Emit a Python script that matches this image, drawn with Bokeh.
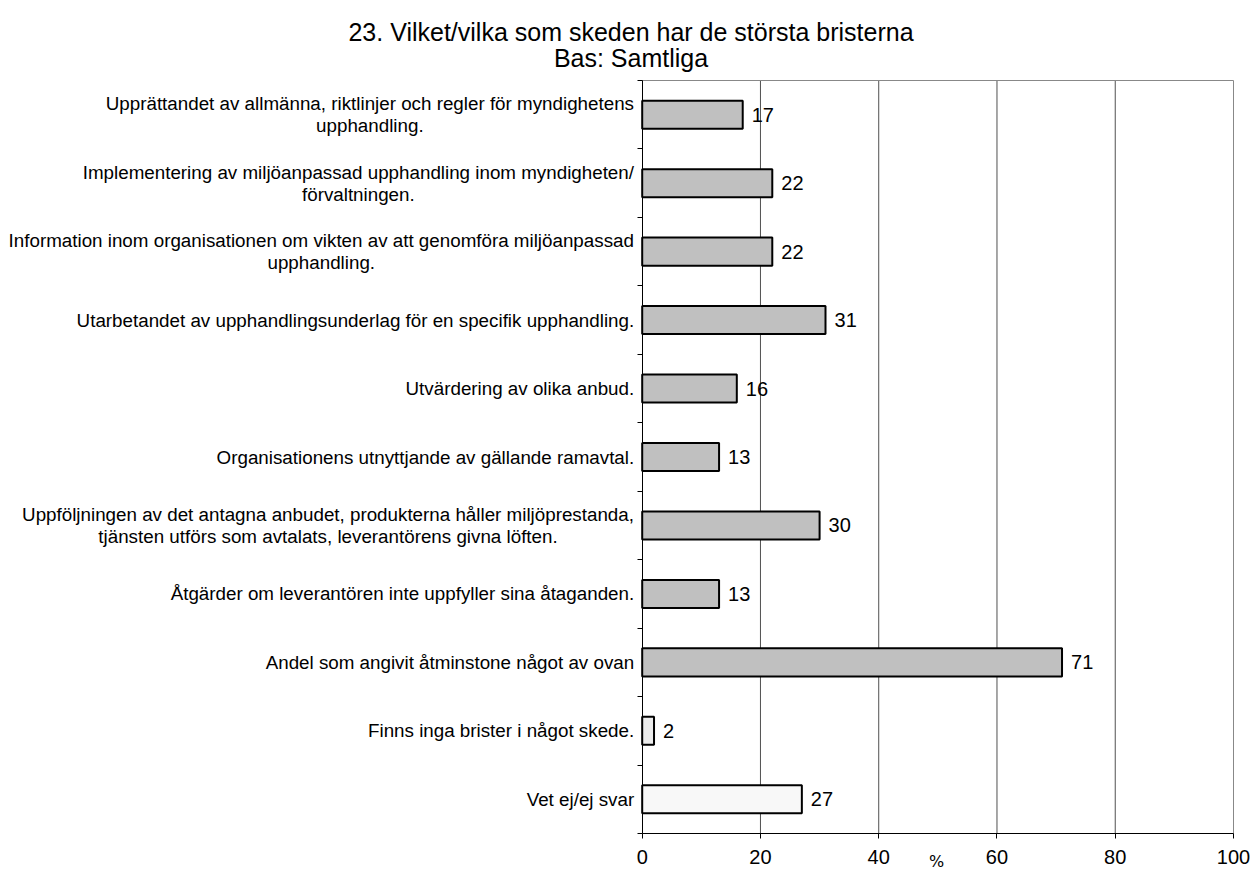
from bokeh.plotting import figure
from bokeh.models import Range1d, FixedTicker, ColumnDataSource, LinearAxis
from bokeh.core.properties import value
from bokeh.embed import file_html
from bokeh.resources import INLINE

title_lines = ["23. Vilket/vilka som skeden har de största bristerna", "Bas: Samtliga"]
categories = [
    ["Upprättandet av allmänna, riktlinjer och regler för myndighetens", "upphandling."],
    ["Implementering av miljöanpassad upphandling inom myndigheten/", "förvaltningen."],
    ["Information inom organisationen om vikten av att genomföra miljöanpassad", "upphandling."],
    ["Utarbetandet av upphandlingsunderlag för en specifik upphandling."],
    ["Utvärdering av olika anbud."],
    ["Organisationens utnyttjande av gällande ramavtal."],
    ["Uppföljningen av det antagna anbudet, produkterna håller miljöprestanda,",
     "tjänsten utförs som avtalats, leverantörens givna löften."],
    ["Åtgärder om leverantören inte uppfyller sina åtaganden."],
    ["Andel som angivit åtminstone något av ovan"],
    ["Finns inga brister i något skede."],
    ["Vet ej/ej svar"],
]
values = [17, 22, 22, 31, 16, 13, 30, 13, 71, 2, 27]
bar_colors = ["#C0C0C0"] * 9 + ["#ECECEC", "#F8F8F8"]
x_ticks = [0, 20, 40, 60, 80, 100]
x_label = "%"

FONT = "Liberation Sans"
FS_CAT = 18.8
FS_NUM = 20
W = {'a': 556, 'b': 556, 'c': 500, 'd': 556, 'e': 556, 'f': 278, 'g': 556, 'h': 556, 'i': 222,
     'j': 222, 'k': 500, 'l': 222, 'm': 833, 'n': 556, 'o': 556, 'p': 556, 'q': 556, 'r': 333,
     's': 500, 't': 278, 'u': 556, 'v': 500, 'w': 722, 'x': 500, 'y': 500, 'z': 500, 'å': 556,
     'ä': 556, 'ö': 556, 'A': 667, 'F': 611, 'I': 278, 'O': 778, 'U': 722, 'V': 667, 'Å': 667,
     ' ': 278, ',': 278, '.': 278, '/': 278}


def text_width(s, size):
    return sum(W.get(ch, 556) for ch in s) * size / 1000.0


# layout geometry (pixels) -> data ranges
FIG_W, FIG_H = 1250, 871
X0_PX, X100_PX = 641.7, 1233.0
Y_TOP_PX, Y_BOT_PX = 80.0, 833.0
n = len(values)
px_x = (X100_PX - X0_PX) / 100.0
px_y = (Y_BOT_PX - Y_TOP_PX) / n
x_start = -X0_PX / px_x
x_end = 100 + (FIG_W - X100_PX) / px_x
y_top = -Y_TOP_PX / px_y
y_bot = n + (FIG_H - Y_BOT_PX) / px_y

p = figure(width=FIG_W, height=FIG_H, output_backend="svg", toolbar_location=None,
           x_range=Range1d(x_start, x_end), y_range=Range1d(y_bot, y_top),
           x_axis_location=None, y_axis_location=None,
           min_border=0, min_border_left=0, min_border_right=0,
           min_border_top=0, min_border_bottom=0)
p.background_fill_color = "white"
p.border_fill_color = "white"
p.outline_line_color = None
p.xgrid.visible = False
p.ygrid.visible = False

# vertical grid lines at the x ticks (inside the plot area) and top border
gx = [t for t in x_ticks if t > 0]
gcol = ["#888888" if t == x_ticks[-1] else "#505050" for t in gx]
p.segment(x0=gx, y0=[0] * len(gx), x1=gx, y1=[n] * len(gx), line_color=gcol, line_width=1)
p.segment(x0=[x_ticks[0]], y0=[0], x1=[x_ticks[-1]], y1=[0], line_color="#888888", line_width=1)

centers = [i + 0.5 for i in range(n)]
src = ColumnDataSource(dict(y=centers, right=values, color=bar_colors,
                            lab=[str(v) for v in values]))

p.hbar(y="y", left=0, right="right", height=0.41, fill_color="color",
       line_color="black", line_width=2, source=src)
p.text(x="right", y="y", text="lab", x_offset=9, text_baseline="middle", text_align="left",
       text_font=value(FONT), text_font_size=value(f"{FS_NUM}px"), text_color="black",
       source=src)

# axes inside the frame
xaxis = LinearAxis(fixed_location=n, bounds=(0, 100), ticker=FixedTicker(ticks=x_ticks))
xaxis.major_tick_in = 0
xaxis.major_tick_out = 5
xaxis.minor_tick_line_color = None
xaxis.axis_line_color = "black"
xaxis.major_tick_line_color = "black"
xaxis.major_label_text_font = FONT
xaxis.major_label_text_font_size = f"{FS_NUM}px"
xaxis.major_label_text_color = "black"
xaxis.major_label_standoff = 11
p.add_layout(xaxis, "below")

yaxis = LinearAxis(fixed_location=0, bounds=(0, n), ticker=FixedTicker(ticks=list(range(n + 1))))
yaxis.major_tick_in = 0
yaxis.major_tick_out = 5
yaxis.minor_tick_line_color = None
yaxis.axis_line_color = "black"
yaxis.major_tick_line_color = "black"
yaxis.major_label_text_font_size = "0px"
yaxis.major_label_text_color = None
p.add_layout(yaxis, "left")

# category labels (lines centred within the block, block right-aligned to the axis)
lx, ly, lt, loff, lal = [], [], [], [], []
half_gap = 11.0 / px_y
for c, lines in zip(centers, categories):
    if len(lines) == 1:
        lx.append(0); ly.append(c); lt.append(lines[0]); loff.append(-8); lal.append("right")
    else:
        maxw = max(text_width(s, FS_CAT) for s in lines)
        for k, s in enumerate(lines):
            lx.append(0)
            ly.append(c + (k - (len(lines) - 1) / 2) * 2 * half_gap)
            lt.append(s)
            loff.append(-8 - maxw / 2)
            lal.append("center")
lsrc = ColumnDataSource(dict(x=lx, y=ly, t=lt, off=loff, al=lal))
p.text(x="x", y="y", text="t", x_offset="off", text_align="al", text_baseline="middle",
       text_font=value(FONT), text_font_size=value(f"{FS_CAT}px"), text_color="black",
       source=lsrc)

# title
tsrc = ColumnDataSource(dict(x=[(630.5 - X0_PX) / px_x] * 2,
                             y=[(31 - Y_TOP_PX) / px_y, (57 - Y_TOP_PX) / px_y],
                             t=title_lines))
p.text(x="x", y="y", text="t", text_align="center", text_baseline="middle",
       text_font=value(FONT), text_font_size=value("25px"), text_color="black", source=tsrc)

# axis unit label
usrc = ColumnDataSource(dict(x=[(936 - X0_PX) / px_x], y=[(861 - Y_TOP_PX) / px_y], t=[x_label]))
p.text(x="x", y="y", text="t", text_align="center", text_baseline="middle",
       text_font=value("DejaVu Sans"), text_font_size=value("16px"), text_color="black",
       source=usrc)

open("out.html", "w").write(file_html(p, INLINE))
